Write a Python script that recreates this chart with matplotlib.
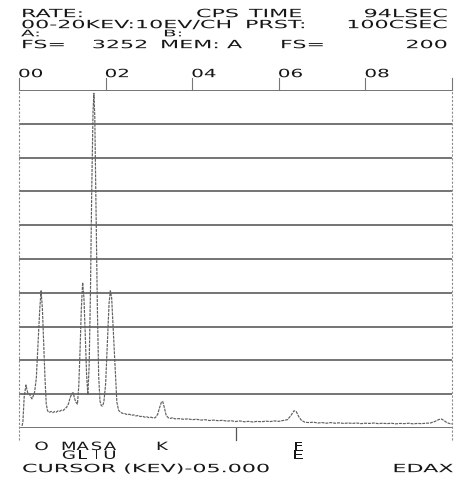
import matplotlib
matplotlib.use("Agg")
import matplotlib.pyplot as plt
from matplotlib import patheffects
from matplotlib.transforms import Affine2D, blended_transform_factory

# ---- spectrum data -------------------------------------------------------
full_scale = 3252          # counts at the top grid line
grid_divisions = 10
kev_max = 10.0
cursor_kev = 5.0

energy_kev = [
    0.07, 0.09, 0.12, 0.16, 0.20, 0.24, 0.27, 0.30, 0.33, 0.36, 0.40, 0.44,
    0.48, 0.51, 0.54, 0.57, 0.60, 0.63, 0.66, 0.70, 0.74, 0.78, 0.82, 0.86,
    0.90, 0.94, 0.98, 1.02, 1.06, 1.10, 1.14, 1.18, 1.22, 1.25, 1.28, 1.31,
    1.35, 1.38, 1.41, 1.44, 1.47, 1.50, 1.53, 1.56, 1.59, 1.62, 1.65, 1.68,
    1.71, 1.73, 1.75, 1.78, 1.81, 1.84, 1.87, 1.90, 1.93, 1.96, 2.00, 2.04,
    2.08, 2.11, 2.14, 2.17, 2.20, 2.23, 2.26, 2.30, 2.35, 2.40, 2.45, 2.50,
    2.55, 2.60, 2.65, 2.70, 2.75, 2.80, 2.85, 2.90, 2.95, 3.00, 3.05, 3.10,
    3.15, 3.20, 3.25, 3.29, 3.32, 3.36, 3.40, 3.45, 3.50, 3.55, 3.60, 3.70,
    3.80, 3.90, 4.00, 4.10, 4.20, 4.30, 4.40, 4.50, 4.60, 4.70, 4.80, 4.90,
    5.00, 5.10, 5.20, 5.30, 5.40, 5.50, 5.60, 5.70, 5.80, 5.90, 6.00, 6.10,
    6.20, 6.28, 6.35, 6.40, 6.46, 6.52, 6.60, 6.70, 6.80, 6.90, 7.00, 7.10,
    7.20, 7.30, 7.40, 7.50, 7.60, 7.70, 7.80, 7.90, 8.00, 8.10, 8.20, 8.30,
    8.40, 8.50, 8.60, 8.70, 8.80, 8.90, 9.00, 9.10, 9.20, 9.30, 9.40, 9.50,
    9.60, 9.70, 9.76, 9.82, 9.88, 9.95, 10.00,
]
counts = [
    20, 60, 300, 414, 340, 330, 300, 280, 310, 345, 480, 820,
    1150, 1320, 1150, 820, 480, 230, 165, 150, 160, 148, 158, 152,
    165, 160, 172, 168, 185, 200, 230, 290, 330, 340, 290, 250,
    230, 400, 750, 1150, 1400, 1250, 900, 520, 320, 600, 1300, 2300,
    3050, 3220, 3000, 2100, 1150, 500, 260, 215, 212, 250, 420, 800,
    1200, 1320, 1250, 1000, 760, 480, 250, 170, 150, 140, 138, 128,
    132, 122, 126, 116, 120, 110, 114, 104, 108, 100, 104, 96,
    100, 130, 200, 250, 255, 190, 120, 98, 92, 100, 88, 90,
    84, 88, 80, 84, 76, 80, 72, 76, 70, 74, 66, 70,
    62, 68, 60, 64, 58, 64, 60, 66, 62, 68, 64, 72,
    80, 120, 165, 160, 110, 75, 56, 52, 56, 48, 52, 46,
    52, 46, 50, 44, 48, 44, 48, 42, 46, 44, 48, 42,
    46, 42, 46, 40, 44, 42, 46, 40, 44, 42, 46, 48,
    62, 82, 86, 70, 52, 42, 40,
]

top_tick_kev = [0, 2, 4, 6, 8, 10]
top_tick_labels = ["00", "02", "04", "06", "08"]

element_labels = ["O", "M\nG", "A\nL", "S\nI", "A\nU", "K", "F\nE"]
element_label_kev = [0.52, 1.15, 1.47, 1.79, 2.10, 3.31, 6.45]

# header block: (text, x px, y px centre, anchor)
header_items = [
    ("RATE:", 21, 13, "left"), ("CPS", 196, 13, "left"), ("TIME", 249, 13, "left"),
    ("94LSEC", 447, 13, "right"),
    ("00-20KEV:10EV/CH", 21, 24, "left"), ("PRST:", 245, 24, "left"),
    ("100CSEC", 447, 24, "right"),
    ("FS=", 21, 44, "left"), ("3252", 147, 44, "right"), ("MEM:", 160, 44, "left"),
    ("A", 227, 44, "left"), ("FS=", 280, 44, "left"), ("200", 447, 44, "right"),
]
small_items = [("A:", 21, 33, "left"), ("B:", 163, 33, "left")]
footer_items = [("CURSOR (KEV)-05.000", 22, 468, "left"), ("EDAX", 453, 468, "right")]

W, H = 469, 479
INK = "#161616"
FONT = "DejaVu Sans"


class HStretch(patheffects.AbstractPathEffect):
    """Widen glyphs horizontally, like the terminal's wide character cells."""

    def __init__(self, sx, anchor="left"):
        super().__init__((0.0, 0.0))
        self.sx = sx
        self.anchor = anchor

    def draw_path(self, renderer, gc, tpath, affine, rgbFace=None):
        if self.anchor == "left":
            x0 = affine.get_matrix()[0, 2]
        else:
            ext = tpath.get_extents(affine)
            x0 = ext.x1 if self.anchor == "right" else 0.5 * (ext.x0 + ext.x1)
        aff = affine + Affine2D().translate(-x0, 0).scale(self.sx, 1).translate(x0, 0)
        renderer.draw_path(gc, tpath, aff, rgbFace)


def screen_text(s, x, y, anchor, size=8.2, sx=1.95):
    cap = size / 72 * 100 * 0.73
    fig.text(x / W, 1 - (y + cap / 2) / H, s, ha=anchor, va="baseline",
             fontsize=size, family=FONT, color=INK,
             path_effects=[HStretch(sx, anchor)])


fig = plt.figure(figsize=(W / 100, H / 100), dpi=100)
ax_left, ax_right, ax_top, ax_bottom = 19, 452, 90, 428
ax = fig.add_axes([ax_left / W, 1 - ax_bottom / H,
                   (ax_right - ax_left) / W, (ax_bottom - ax_top) / H])
ax.set_xlim(0, kev_max)
ax.set_ylim(0, full_scale)
ax.axis("off")

px_to_axes = 1.0 / (ax_bottom - ax_top)
xa = blended_transform_factory(ax.transData, ax.transAxes)

# horizontal scale lines
levels = [full_scale * i / grid_divisions for i in range(grid_divisions + 1)]
ax.hlines(levels, 0, kev_max, colors="#5c5c5c", linewidth=1.2, zorder=1)

# dashed frame sides, reaching below the baseline
for xv in (0, kev_max):
    ax.plot([xv, xv], [-12 * px_to_axes, 1], transform=xa, color="#8a8a8a",
            linewidth=0.8, linestyle=(0, (2, 1.5)), clip_on=False, zorder=1)

# top energy ticks and labels
for kv in top_tick_kev:
    ax.plot([kv, kv], [1, 1 + 12 * px_to_axes], transform=xa, color="#777777",
            linewidth=0.8, clip_on=False)
for kv, lab in zip(top_tick_kev, top_tick_labels):
    xp = ax_left + kv / kev_max * (ax_right - ax_left)
    screen_text(lab, xp - 1, 73, "left", size=8.2, sx=1.75)

# cursor marker
ax.plot([cursor_kev, cursor_kev], [-12 * px_to_axes, 0], transform=xa,
        color="#555555", linewidth=0.9, clip_on=False)

# spectrum trace
ax.plot(energy_kev, counts, color="#606060", linewidth=0.85,
        linestyle=(0, (2.5, 0.8)), zorder=3)

# element markers below the trace
for kv, lab in zip(element_label_kev, element_labels):
    xp = ax_left + kv / kev_max * (ax_right - ax_left)
    fig.text(xp / W, 1 - 442 / H, lab, ha="center", va="top", fontsize=8.2,
             family=FONT, color=INK, linespacing=0.85,
             path_effects=[HStretch(1.6, "center")])

for s, x, y, a in header_items + footer_items:
    screen_text(s, x, y, a)
for s, x, y, a in small_items:
    screen_text(s, x, y, a, size=6.5, sx=2.2)

fig.savefig("out.png", dpi=100, facecolor="white")
